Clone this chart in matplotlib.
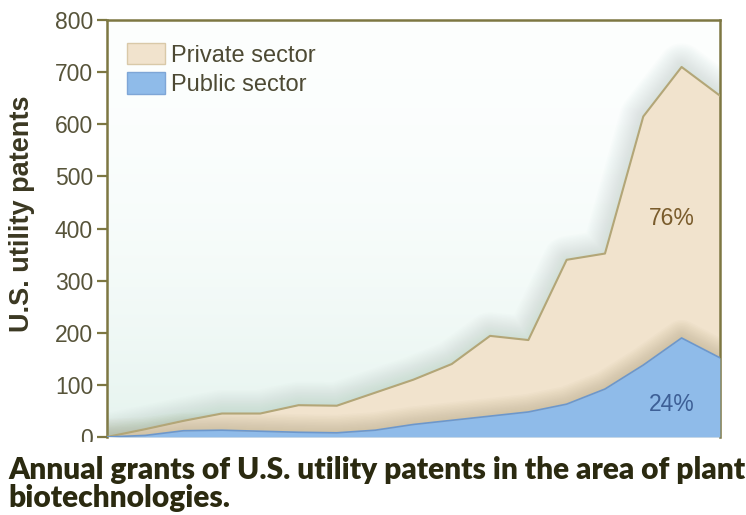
import numpy as np
import matplotlib
matplotlib.use("Agg")
import matplotlib.pyplot as plt
from matplotlib.patches import Patch, Rectangle

# annual grants, 17 consecutive years (x axis is unlabeled in the source)
years = list(range(1983, 2000))
total = [0, 15, 31, 45, 45, 61, 60, 85, 110, 140, 194, 186, 340, 352, 615, 710, 655]
public = [0, 3, 12, 13, 11, 9, 8, 13, 24, 32, 40, 48, 63, 92, 138, 190, 152]
private = [t - p for t, p in zip(total, public)]

series_labels = ['Private sector', 'Public sector']
share_labels = ['76%', '24%']
y_ticks = list(range(0, 900, 100))

OLIVE = '#7d7742'
PRIV_FILL = '#f1e3cd'
PRIV_EDGE = '#b3a677'
PUB_FILL = '#8fbbe9'
PUB_EDGE = '#6c97cc'

plt.rcParams['font.family'] = ['Liberation Sans', 'DejaVu Sans']

fig = plt.figure(figsize=(7.46, 5.15), dpi=100)
ax = fig.add_axes([0.1434, 0.1515, 0.8216, 0.8095])

# soft mint background, stronger near the bottom
grad = np.linspace(0, 1, 256).reshape(-1, 1)
top_c = np.array([0.99, 0.998, 0.996])
bot_c = np.array([0.90, 0.955, 0.935])
bg = top_c * (1 - grad ** 2)[..., None] + bot_c * (grad ** 2)[..., None]
ax.imshow(bg[::-1], aspect='auto', extent=(years[0], years[-1], 0, 800),
          origin='lower', zorder=0)

# glow/shadow around the private-sector outline
for lw in np.linspace(34, 2, 16):
    ax.plot(years, total, color='#9dbcae', alpha=0.025, lw=lw,
            solid_joinstyle='round', zorder=1)

ax.fill_between(years, 0, total, color=PRIV_FILL, lw=0, zorder=2)
ax.plot(years, total, color=PRIV_EDGE, lw=1.5, zorder=4)

# darker shading above the public-sector band
for lw in np.linspace(26, 2, 12):
    ax.plot(years, public, color='#a89a78', alpha=0.04, lw=lw,
            solid_joinstyle='round', zorder=3)

ax.fill_between(years, 0, public, color=PUB_FILL, lw=0, zorder=5)
ax.plot(years, public, color=PUB_EDGE, lw=1.2, zorder=6)

ax.set_xlim(years[0], years[-1])
ax.set_ylim(0, 800)
ax.set_yticks(y_ticks)
ax.set_xticks([])
ax.tick_params(axis='y', direction='out', length=7, width=1.6, color=OLIVE,
               labelsize=16.5, labelcolor='#57543a', pad=3)
for side in ['left', 'top', 'right']:
    ax.spines[side].set_color(OLIVE)
    ax.spines[side].set_linewidth(1.8)
ax.spines['bottom'].set_visible(False)

ax.set_ylabel('U.S. utility patents', fontsize=19.5, fontweight='bold',
              color='#3b3822')
ax.yaxis.set_label_coords(-0.118, 0.535)

handles = [Patch(facecolor=PRIV_FILL, edgecolor='#d9c9a8', lw=1),
           Patch(facecolor=PUB_FILL, edgecolor='#7ea6d6', lw=1)]
leg = ax.legend(handles, series_labels, loc='upper left', frameon=False,
                fontsize=17, handlelength=1.6, handleheight=1.0,
                handletextpad=0.25, labelspacing=0.25,
                bbox_to_anchor=(0.006, 0.985), borderaxespad=0.3)
for t in leg.get_texts():
    t.set_color('#4d4a34')

ax.text(1997.75, 420, share_labels[0], fontsize=16.5, color='#7a5c2c',
        ha='center', va='center', zorder=7)
ax.text(1997.75, 62, share_labels[1], fontsize=16.5, color='#3d5f96',
        ha='center', va='center', zorder=7)

# the source scan is cropped just below the zero tick label
fig.patches.append(Rectangle((0, 0), 0.14, 1 - 442 / 515, transform=fig.transFigure,
                             facecolor='white', edgecolor='none', zorder=3))

fig.text(0.011, 0.016, 'Annual grants of U.S. utility patents in the area of plant\nbiotechnologies.',
         fontsize=21.5, fontweight='heavy', family=['Lato', 'DejaVu Sans'],
         color='#2b2a10', ha='left', va='baseline', linespacing=1.0, zorder=4)

fig.savefig('out.png', dpi=100)
